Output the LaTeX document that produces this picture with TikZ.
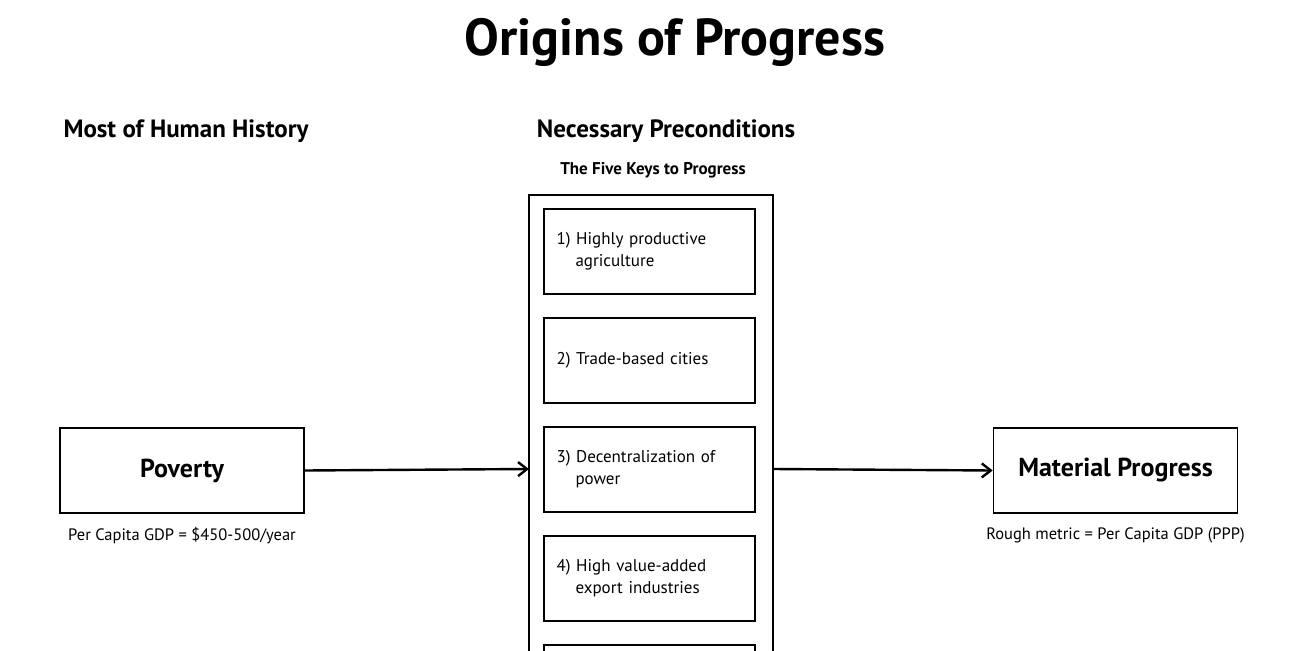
\documentclass[tikz,border=0pt]{standalone}
\usepackage{fontspec}
\setmainfont{PT Sans}
\usetikzlibrary{arrows.meta,positioning}
\tikzset{
  box/.style={draw,line width=1.6pt,minimum width=244pt,minimum height=85pt,font=\fontsize{26}{30}\selectfont\bfseries},
  keybox/.style={draw,line width=1.3pt,minimum width=211pt,minimum height=85pt,text width=186pt,align=left,inner sep=0pt,font=\fontsize{17}{22}\selectfont},
  head/.style={font=\fontsize{25}{30}\selectfont\bfseries},
  note/.style={font=\fontsize{16.5}{20}\selectfont},
  flow/.style={line width=2.4pt,-{Straight Barb[length=9pt,width=14pt,line width=2.4pt]}}
}
\newcommand{\ind}{\hspace*{19pt}}
\begin{document}
\begin{tikzpicture}[x=1pt,y=-1pt]
  \useasboundingbox (0,0) rectangle (1300,650);
  \clip (0,0) rectangle (1300,650);
  % titles
  \node[font=\fontsize{52}{60}\selectfont\bfseries] (title) at (675,42) {Origins of Progress};
  \node[head] (hist) at (186,131) {Most of Human History};
  \node[head] (pre) at (666,131) {Necessary Preconditions};
  \node[font=\fontsize{17}{20}\selectfont\bfseries] (keys) at (653,170) {The Five Keys to Progress};
  % outer column
  \draw[line width=1.6pt] (529,700) -- (529,195) -- (773,195) -- (773,700);
  \coordinate (colin) at (529,469);
  \coordinate (colout) at (773,469);
  % the keys
  \node[keybox] (k1) at (649.5,251.5) {1) Highly productive\\\ind agriculture};
  \node[keybox] (k2) at (649.5,360.5) {2) Trade-based cities};
  \node[keybox] (k3) at (649.5,469.5) {3) Decentralization of\\\ind power};
  \node[keybox] (k4) at (649.5,578.5) {4) High value-added\\\ind export industries};
  \node[keybox] (k5) at (649.5,687.5) {};
  % ends
  \node[box] (pov) at (182,470.5) {Poverty};
  \node[box] (mat) at (1115.5,470.5) {Material Progress};
  \node[note,below=10pt of pov] (povnote) {Per Capita GDP = \$450-500/year};
  \node[note,below=10pt of mat] (matnote) {Rough metric = Per Capita GDP (PPP)};
  \draw[flow] (pov.east) -- (colin);
  \draw[flow] (colout) -- (mat.west);
\end{tikzpicture}
\end{document}
